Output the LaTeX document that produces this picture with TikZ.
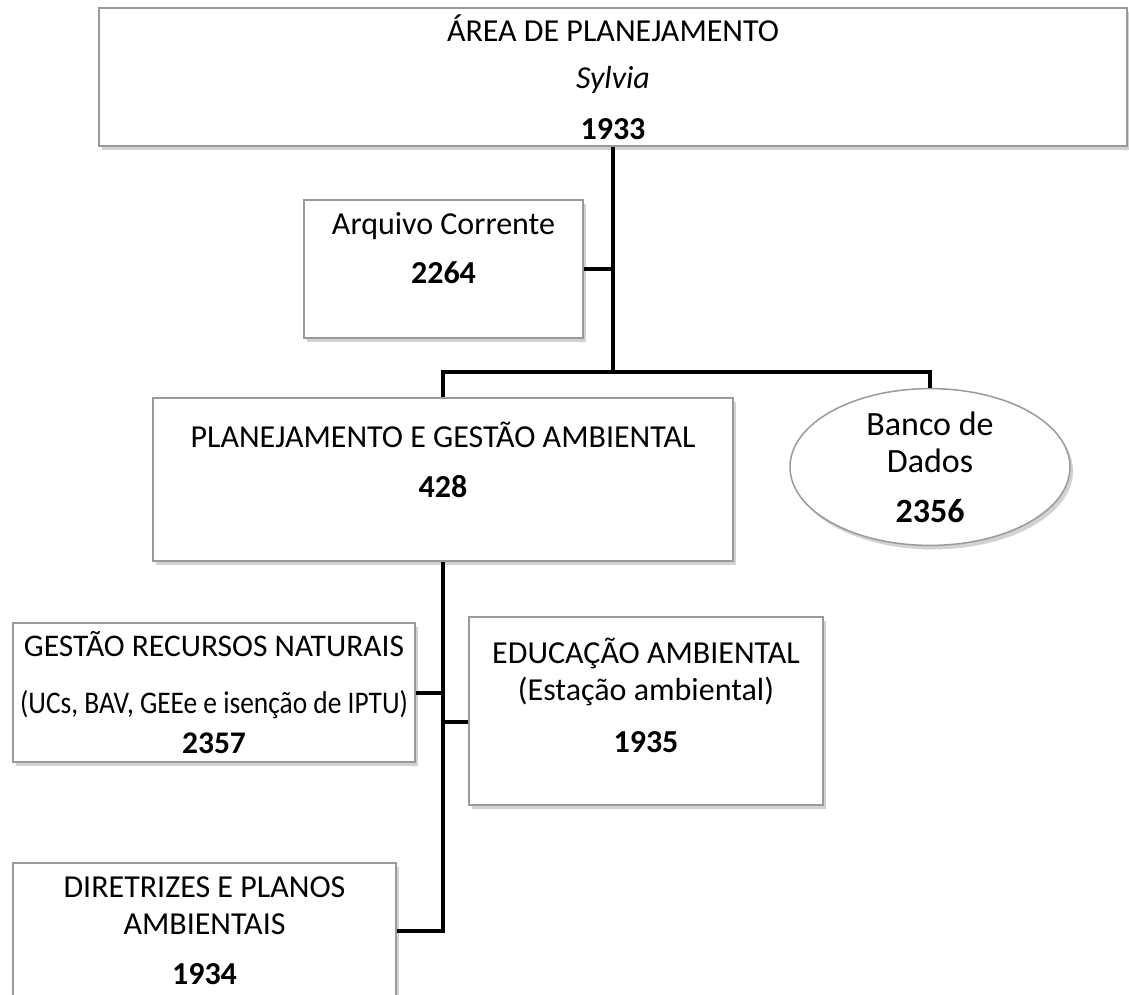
\documentclass[tikz,border=0pt]{standalone}
\usepackage{fontspec}
\setmainfont{Carlito}
\usetikzlibrary{shapes.geometric, shadows}
\definecolor{boxline}{HTML}{9A9A9A}
\definecolor{boxshade}{HTML}{D2D2D2}
\tikzset{
  orgbox/.style={draw=boxline, line width=1.5pt, fill=white, align=center,
    inner sep=0pt, font=\fontsize{32}{36.6}\selectfont,
    drop shadow={shadow xshift=3pt, shadow yshift=-4pt, fill=boxshade, opacity=1}},
  link/.style={line width=4pt, black}
}
\newcommand{\orgbox}[6][]{%
  \node[orgbox, rectangle, minimum width=#4pt, minimum height=#5pt, #1] (#2) at (#3) {#6};}

\begin{document}
\begin{tikzpicture}[x=1pt, y=-1pt]
  \useasboundingbox[fill=white] (0,0) rectangle (1129,995);
  \orgbox{top}{613,77}{1028}{138}{ÁREA DE PLANEJAMENTO\\[11pt]\textit{Sylvia}\\[14pt]\textbf{1933}}
  \orgbox[text depth=42pt]{arq}{443.5,269}{279}{138}{Arquivo Corrente\\[12pt]\textbf{2264}}
  \orgbox[text depth=40pt]{pga}{443,479.5}{580}{163}{PLANEJAMENTO E GESTÃO AMBIENTAL\\[13pt]\textbf{428}}
  \orgbox[ellipse, font=\fontsize{34}{37}\selectfont]{banco}{930,467}{280}{140}{Banco de\\Dados\\[13pt]\textbf{2356}}
  \orgbox[font=\fontsize{31.5}{36.6}\selectfont]{grn}{214,692.5}{402}{139}{GESTÃO RECURSOS NATURAIS\\[20pt]\scalebox{0.87}[1]{(UCs, BAV, GEEe e isenção de IPTU)}\\[3pt]\textbf{2357}}
  \orgbox[text depth=32pt]{ea}{646,711}{354}{188}{EDUCAÇÃO AMBIENTAL\\[1pt](Estação ambiental)\\[15pt]\textbf{1935}}
  \orgbox{dpa}{204.5,931}{383}{136}{DIRETRIZES E PLANOS\\AMBIENTAIS\\[14pt]\textbf{1934}}
  \coordinate (hub) at (613,372);
  % ligacoes
  \draw[link] (top.south) -- (hub);
  \draw[link] (arq.east) -- (arq.east -| hub);
  \draw[link] (pga.north) |- (hub) -| (banco.north);
  \draw[link] (pga.south) |- (dpa.east);
  \draw[link] (grn.east) -- (grn.east -| pga.south);
  \draw[link] ([yshift=-11pt]ea.west) -- ([yshift=-11pt]ea.west -| pga.south);
\end{tikzpicture}
\end{document}
